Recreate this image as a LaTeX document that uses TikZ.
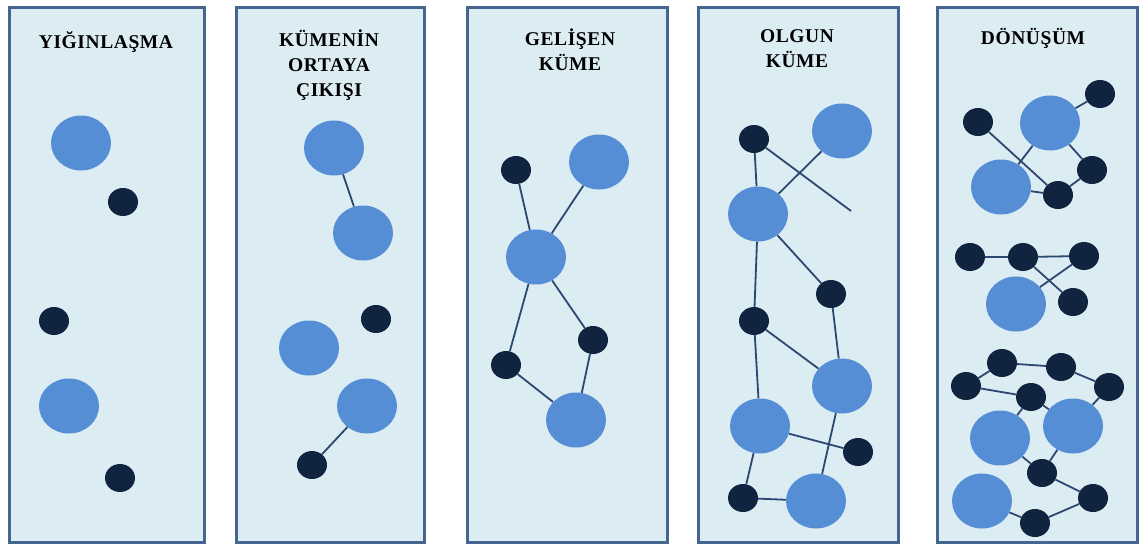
\documentclass[tikz,border=0pt]{standalone}
\usepackage{fontspec}
\setmainfont{Liberation Serif}
\usetikzlibrary{shapes.geometric}

\definecolor{PanelFill}{RGB}{219,236,243}
\definecolor{PanelEdge}{RGB}{68,102,145}
\definecolor{BigBlue}{RGB}{85,142,213}
\definecolor{DotNavy}{RGB}{17,36,63}
\definecolor{LinkBlue}{RGB}{44,72,112}

\tikzset{
    panel/.style={rectangle, draw=PanelEdge, line width=3pt, fill=PanelFill, inner sep=0pt, anchor=north west},
    big/.style={ellipse, fill=BigBlue, minimum width=60pt, minimum height=55pt, inner sep=0pt},
    dot/.style={ellipse, fill=DotNavy, minimum width=30pt, minimum height=28pt, inner sep=0pt},
    link/.style={draw=LinkBlue, line width=1.8pt},
    stagetitle/.style={font=\fontsize{19.5}{25}\selectfont\bfseries\addfontfeature{LetterSpace=3}, align=center, inner sep=0pt}
}

\begin{document}
\begin{tikzpicture}[x=1pt, y=-1pt]

    \useasboundingbox (0,0) rectangle (1139,543);

    \node (StageA) [panel, minimum width=195pt, minimum height=535pt] at (8,6) {};
    \node (StageB) [panel, minimum width=188pt, minimum height=535pt] at (235,6) {};
    \node (StageC) [panel, minimum width=200pt, minimum height=535pt] at (466,6) {};
    \node (StageD) [panel, minimum width=200pt, minimum height=535pt] at (697,6) {};
    \node (StageE) [panel, minimum width=200pt, minimum height=535pt] at (936,6) {};

    \node (TitleA) [stagetitle] at (106,42) {YIĞINLAŞMA};
    \node (TitleB) [stagetitle] at (329,65) {KÜMENİN\\ORTAYA\\ÇIKIŞI};
    \node (TitleC) [stagetitle] at (570,50) {GELİŞEN\\KÜME};
    \node (TitleD) [stagetitle] at (797,49) {OLGUN\\KÜME};
    \node (TitleE) [stagetitle] at (1033,38) {DÖNÜŞÜM};

    \node (BigA1) [big] at (81,143) {};
    \node (DotA1) [dot] at (123,202) {};
    \node (DotA2) [dot] at (54,321) {};
    \node (BigA2) [big] at (69,406) {};
    \node (DotA3) [dot] at (120,478) {};

    \node (BigB1) [big] at (334,148) {};
    \node (BigB2) [big] at (363,233) {};
    \node (DotB1) [dot] at (376,319) {};
    \node (BigB3) [big] at (309,348) {};
    \node (BigB4) [big] at (367,406) {};
    \node (DotB2) [dot] at (312,465) {};

    \draw[link] (BigB1) -- (BigB2);
    \draw[link] (DotB2) -- (BigB4);

    \node (DotC1) [dot] at (516,170) {};
    \node (BigC1) [big] at (599,162) {};
    \node (BigC2) [big] at (536,257) {};
    \node (DotC2) [dot] at (593,340) {};
    \node (DotC3) [dot] at (506,365) {};
    \node (BigC3) [big] at (576,420) {};

    \draw[link] (DotC1) -- (BigC2);
    \draw[link] (BigC1) -- (BigC2);
    \draw[link] (BigC2) -- (DotC3);
    \draw[link] (BigC2) -- (DotC2);
    \draw[link] (DotC3) -- (BigC3);
    \draw[link] (DotC2) -- (BigC3);

    \node (DotD1) [dot] at (754,139) {};
    \node (BigD1) [big] at (842,131) {};
    \node (BigD2) [big] at (758,214) {};
    \coordinate (LooseD) at (851,211);
    \node (DotD2) [dot] at (831,294) {};
    \node (DotD3) [dot] at (754,321) {};
    \node (BigD3) [big] at (842,386) {};
    \node (BigD4) [big] at (760,426) {};
    \node (DotD4) [dot] at (858,452) {};
    \node (DotD5) [dot] at (743,498) {};
    \node (BigD5) [big] at (816,501) {};

    \draw[link] (DotD1) -- (BigD2);
    \draw[link] (DotD1) -- (LooseD);
    \draw[link] (BigD1) -- (BigD2);
    \draw[link] (BigD2) -- (DotD2);
    \draw[link] (BigD2) -- (DotD3);
    \draw[link] (DotD2) -- (BigD3);
    \draw[link] (DotD3) -- (BigD3);
    \draw[link] (DotD3) -- (BigD4);
    \draw[link] (BigD4) -- (DotD4);
    \draw[link] (BigD3) -- (BigD5);
    \draw[link] (BigD4) -- (DotD5);
    \draw[link] (DotD5) -- (BigD5);

    \node (DotE1) [dot] at (978,122) {};
    \node (BigE1) [big] at (1050,123) {};
    \node (DotE2) [dot] at (1100,94) {};
    \node (DotE3) [dot] at (1092,170) {};
    \node (BigE2) [big] at (1001,187) {};
    \node (DotE4) [dot] at (1058,195) {};

    \draw[link] (DotE2) -- (BigE1);
    \draw[link] (BigE1) -- (DotE3);
    \draw[link] (DotE3) -- (DotE4);
    \draw[link] (BigE2) -- (DotE4);
    \draw[link] (DotE1) -- (DotE4);
    \draw[link] (BigE1) -- (BigE2);

    \node (DotF1) [dot] at (970,257) {};
    \node (DotF2) [dot] at (1023,257) {};
    \node (DotF3) [dot] at (1084,256) {};
    \node (BigF1) [big] at (1016,304) {};
    \node (DotF4) [dot] at (1073,302) {};

    \draw[link] (DotF1) -- (DotF2);
    \draw[link] (DotF2) -- (DotF3);
    \draw[link] (DotF2) -- (DotF4);
    \draw[link] (DotF3) -- (BigF1);

    \node (DotG1) [dot] at (1002,363) {};
    \node (DotG2) [dot] at (1061,367) {};
    \node (DotG3) [dot] at (1109,387) {};
    \node (DotG4) [dot] at (966,386) {};
    \node (DotG5) [dot] at (1031,397) {};
    \node (BigG1) [big] at (1000,438) {};
    \node (BigG2) [big] at (1073,426) {};
    \node (DotG6) [dot] at (1042,473) {};
    \node (DotG7) [dot] at (1093,498) {};
    \node (BigG3) [big] at (982,501) {};
    \node (DotG8) [dot] at (1035,523) {};

    \draw[link] (DotG4) -- (DotG1);
    \draw[link] (DotG1) -- (DotG2);
    \draw[link] (DotG2) -- (DotG3);
    \draw[link] (DotG4) -- (DotG5);
    \draw[link] (DotG5) -- (BigG1);
    \draw[link] (DotG5) -- (BigG2);
    \draw[link] (DotG3) -- (BigG2);
    \draw[link] (BigG1) -- (DotG6);
    \draw[link] (BigG2) -- (DotG6);
    \draw[link] (DotG6) -- (DotG7);
    \draw[link] (DotG7) -- (DotG8);
    \draw[link] (BigG3) -- (DotG8);

\end{tikzpicture}
\end{document}
